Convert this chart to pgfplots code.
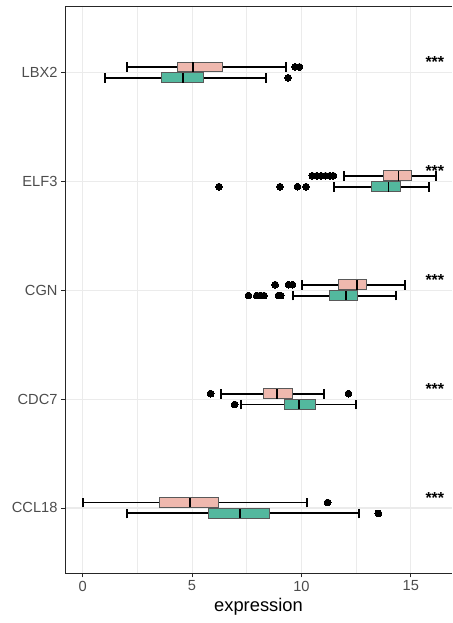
\documentclass[border=0pt]{standalone}
\usepackage{pgfplots}
\pgfplotsset{compat=1.18}
\usepgfplotslibrary{statistics}
\usepackage{fontspec}
\setmainfont{Liberation Sans}
\definecolor{pinkc}{HTML}{EFB8AE}
\definecolor{tealc}{HTML}{53B89E}
\definecolor{gridc}{HTML}{EBEBEB}
\pgfplotsset{
  bx/.style={solid, draw=black!65, line width=0.8bp,
    mark=*, mark size=3.4bp, mark options={draw=black, fill=black, line width=0pt},
    boxplot/every whisker/.style={draw=black, line width=1.9bp},
    boxplot/every median/.style={draw=black, line width=1.9bp},
    boxplot/box extend=0.09, boxplot/whisker extend=0.09},
  pk/.style={bx, fill=pinkc},
  tl/.style={bx, fill=tealc},
}
\begin{document}
\begin{tikzpicture}
\begin{axis}[
  scale only axis, width=387bp, height=566.3bp,
  xmin=-0.81, xmax=16.886, ymin=0.4, ymax=5.6,
  axis x line*=bottom, axis y line*=left,
  axis line style={-, draw=black!85, line width=1bp},
  xtick={0,5,10,15}, minor xtick={2.5,7.5,12.5},
  ytick={1,2,3,4,5}, yticklabels={CCL18,CDC7,CGN,ELF3,LBX2},
  xmajorgrids, xminorgrids, ymajorgrids,
  major grid style={draw=gridc, line width=1.1bp},
  minor grid style={draw=gridc, line width=0.6bp},
  tick align=outside, major tick length=4bp, minor tick length=0pt,
  tick style={draw=black!85, line width=0.9bp},
  /pgf/number format/assume math mode=true,
  ticklabel style={font=\fontsize{14.7}{17}\selectfont, text=black!70},
  xlabel={expression},
  xlabel style={font=\fontsize{18.4}{22}\selectfont},
]
% LBX2
\addplot[pk, boxplot prepared={lower whisker=2.01, lower quartile=4.34, median=5.05, upper quartile=6.40, upper whisker=9.31, draw position=5.05}] coordinates {(0,9.71) (0,9.91)};
\addplot[tl, boxplot prepared={lower whisker=1.02, lower quartile=3.60, median=4.60, upper quartile=5.53, upper whisker=8.38, draw position=4.95}] coordinates {(0,9.39)};
% ELF3
\addplot[pk, boxplot prepared={lower whisker=11.95, lower quartile=13.75, median=14.44, upper quartile=15.02, upper whisker=16.16, draw position=4.05}] coordinates {(0,10.50) (0,10.70) (0,10.90) (0,11.10) (0,11.30) (0,11.46)};
\addplot[tl, boxplot prepared={lower whisker=11.51, lower quartile=13.22, median=13.98, upper quartile=14.51, upper whisker=15.84, draw position=3.95}] coordinates {(0,6.23) (0,9.02) (0,9.82) (0,10.21)};
% CGN
\addplot[pk, boxplot prepared={lower whisker=10.03, lower quartile=11.71, median=12.53, upper quartile=12.99, upper whisker=14.74, draw position=3.05}] coordinates {(0,8.80) (0,9.41) (0,9.59)};
\addplot[tl, boxplot prepared={lower whisker=9.63, lower quartile=11.28, median=12.03, upper quartile=12.56, upper whisker=14.33, draw position=2.95}] coordinates {(0,7.58) (0,7.96) (0,8.11) (0,8.29) (0,8.95) (0,9.05)};
% CDC7
\addplot[pk, boxplot prepared={lower whisker=6.31, lower quartile=8.26, median=8.89, upper quartile=9.59, upper whisker=11.05, draw position=2.05}] coordinates {(0,5.85) (0,12.15)};
\addplot[tl, boxplot prepared={lower whisker=7.24, lower quartile=9.24, median=9.91, upper quartile=10.64, upper whisker=12.50, draw position=1.95}] coordinates {(0,6.95)};
% CCL18
\addplot[pk, boxplot prepared={lower whisker=0.00, lower quartile=3.49, median=4.91, upper quartile=6.22, upper whisker=10.24, draw position=1.05}] coordinates {(0,11.20)};
\addplot[tl, boxplot prepared={lower whisker=2.01, lower quartile=5.73, median=7.21, upper quartile=8.52, upper whisker=12.64, draw position=0.95}] coordinates {(0,13.52)};
% significance
\foreach \yy in {1.04,2.04,3.04,4.04,5.04} {
  \edef\tmp{\noexpand\node[anchor=base, font=\noexpand\fontsize{16}{18}\noexpand\bfseries\noexpand\selectfont, inner sep=0pt] at (axis cs:16.1,\yy) {***};}
  \tmp
}
\draw[draw=black!85, line width=1bp] (rel axis cs:0,1) -- (rel axis cs:1,1);
\coordinate (ll) at (rel axis cs:0,0);
\coordinate (ur) at (rel axis cs:1,1);
\end{axis}
\pgfresetboundingbox
\path[use as bounding box] ([shift={(-65bp,-49.7bp)}]ll) rectangle ([shift={(0bp,7bp)}]ur);
\end{tikzpicture}
\end{document}
